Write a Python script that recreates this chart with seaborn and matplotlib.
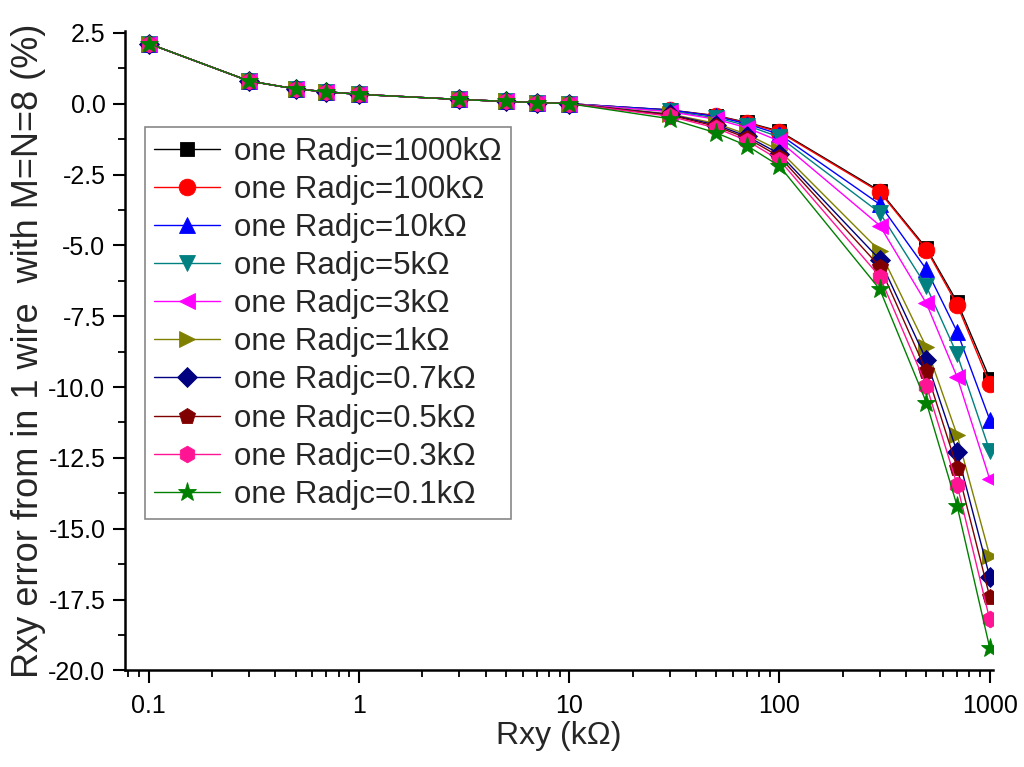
import numpy as np
import pandas as pd
import matplotlib
matplotlib.use("Agg")
import matplotlib.pyplot as plt
import seaborn as sns
from matplotlib.ticker import FixedLocator, FixedFormatter, AutoMinorLocator, LogLocator, NullFormatter

# ---------------- data ----------------
rxy = [0.1, 0.3, 0.5, 0.7, 1, 3, 5, 7, 10, 30, 50, 70, 100, 300, 500, 700, 1000]
low = [2.12, 0.80, 0.52, 0.42, 0.33, 0.15, 0.08, 0.04, 0.00]

labels = ["one Radjc=1000kΩ", "one Radjc=100kΩ", "one Radjc=10kΩ", "one Radjc=5kΩ",
          "one Radjc=3kΩ", "one Radjc=1kΩ", "one Radjc=0.7kΩ", "one Radjc=0.5kΩ",
          "one Radjc=0.3kΩ", "one Radjc=0.1kΩ"]

err_1000k = low + [-0.22, -0.42, -0.66, -0.97, -3.08, -5.10, -7.00, -9.70]
err_100k  = low + [-0.23, -0.43, -0.68, -1.00, -3.12, -5.15, -7.10, -9.88]
err_10k   = low + [-0.22, -0.45, -0.71, -1.08, -3.55, -5.85, -8.05, -11.15]
err_5k    = low + [-0.26, -0.50, -0.77, -1.18, -3.85, -6.45, -8.85, -12.25]
err_3k    = low + [-0.28, -0.55, -0.85, -1.32, -4.30, -7.05, -9.65, -13.25]
err_1k    = low + [-0.36, -0.70, -1.08, -1.65, -5.20, -8.60, -11.70, -15.95]
err_07k   = low + [-0.38, -0.75, -1.15, -1.77, -5.50, -9.05, -12.30, -16.70]
err_05k   = low + [-0.40, -0.80, -1.21, -1.87, -5.75, -9.45, -12.85, -17.40]
err_03k   = low + [-0.44, -0.86, -1.30, -1.99, -6.10, -9.95, -13.45, -18.20]
err_01k   = low + [-0.53, -1.03, -1.48, -2.20, -6.55, -10.55, -14.20, -19.20]

series = [err_1000k, err_100k, err_10k, err_5k, err_3k, err_1k, err_07k, err_05k, err_03k, err_01k]

xticks = [0.1, 1, 10, 100, 1000]
xtick_labels = ["0.1", "1", "10", "100", "1000"]
yticks = [-20.0, -17.5, -15.0, -12.5, -10.0, -7.5, -5.0, -2.5, 0.0, 2.5]

# ---------------- style ----------------
colors = ["#000000", "#FF0000", "#0000FF", "#008080", "#FF00FF",
          "#808000", "#000080", "#800000", "#FF1493", "#008000"]
markers = ["s", "o", "^", "v", "<", ">", "D", "p", "h", "*"]
msizes = [10, 12, 12, 12, 12, 12, 10, 12, 12, 14]

sns.set_theme(style="ticks")
plt.rcParams["font.family"] = ["Liberation Sans", "DejaVu Sans"]
plt.rcParams["axes.unicode_minus"] = False

fig = plt.figure(figsize=(10.24, 7.67), dpi=100)
ax = fig.add_axes([0.122, 0.126, 0.848, 0.833])

df = pd.DataFrame({"x": np.tile(rxy, len(series)),
                   "y": np.concatenate(series),
                   "lab": np.repeat(labels, len(rxy))})

for i, lab in enumerate(labels):
    sub = df[df["lab"] == lab]
    sns.lineplot(data=sub, x="x", y="y", ax=ax, color=colors[i], marker=markers[i],
                 markersize=msizes[i], markeredgewidth=0.6, markeredgecolor=colors[i],
                 linewidth=1.0, label=lab, estimator=None, sort=False)

ax.set_xscale("log")
ax.set_xlim(0.077, 1040)
ax.set_ylim(-20.0, 2.55)
ax.xaxis.set_major_locator(FixedLocator(xticks))
ax.xaxis.set_major_formatter(FixedFormatter(xtick_labels))
ax.xaxis.set_minor_locator(LogLocator(base=10, subs=np.arange(2, 10)))
ax.xaxis.set_minor_formatter(NullFormatter())
ax.yaxis.set_major_locator(FixedLocator(yticks))
ax.set_yticklabels([f"{v:.1f}" for v in yticks])
ax.yaxis.set_minor_locator(AutoMinorLocator(2))

for lbl in ax.get_xticklabels() + ax.get_yticklabels():
    lbl.set_fontsize(18)

ax.tick_params(which="major", direction="out", length=9, width=1.5, colors="black", pad=5)
ax.tick_params(which="minor", direction="out", length=5, width=1.3, colors="black")
ax.tick_params(axis="x", which="major", pad=8)
for s in ["top", "right"]:
    ax.spines[s].set_visible(False)
for s in ["left", "bottom"]:
    ax.spines[s].set_linewidth(1.8)
    ax.spines[s].set_color("black")

ax.set_xlabel("Rxy (kΩ)", fontsize=23, labelpad=2)
ax.set_ylabel("Rxy error from in 1 wire  with M=N=8 (%)", fontsize=26, labelpad=2)

leg = ax.legend(loc="upper left", bbox_to_anchor=(0.023, 0.85), fontsize=22.5,
                frameon=True, fancybox=False, edgecolor="#888888", framealpha=1,
                borderpad=0.3, labelspacing=0.26, handlelength=2.1, handletextpad=0.45,
                borderaxespad=0)
leg.get_frame().set_linewidth(1.2)

fig.savefig("out.png", dpi=100)
